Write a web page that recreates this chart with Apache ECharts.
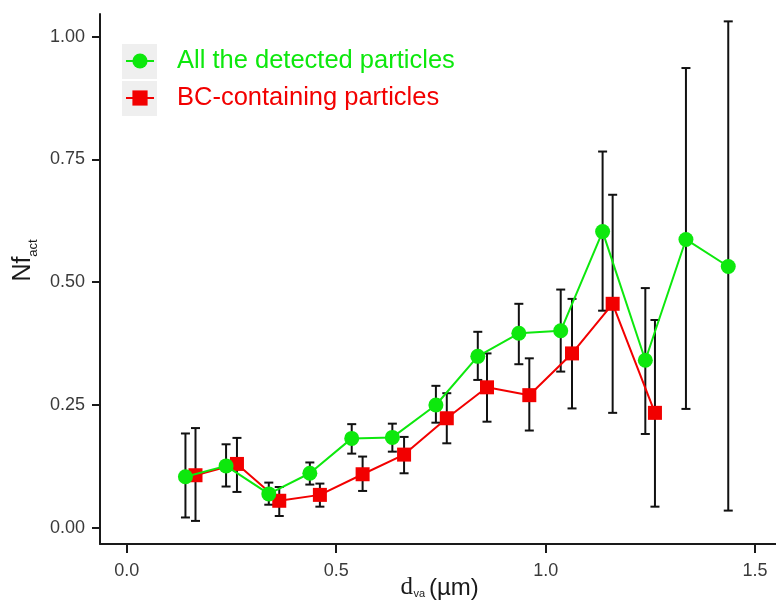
<!DOCTYPE html>
<html>
<head>
<meta charset="utf-8">
<script src="https://cdn.jsdelivr.net/npm/echarts@6/dist/echarts.min.js"></script>
<style>
  html, body { margin: 0; padding: 0; background: #ffffff; }
  #chart { width: 776px; height: 606px; }
</style>
</head>
<body>
<div id="chart"></div>
<script>
// Activated number fraction vs. vacuum aerodynamic diameter
const xTicks = [0, 0.5, 1.0, 1.5];
const yTicks = [0, 0.25, 0.5, 0.75, 1.0];

const seriesNames = ['All the detected particles', 'BC-containing particles'];

// All the detected particles
const allX    = [0.140, 0.237, 0.339, 0.437, 0.537, 0.634, 0.738, 0.838, 0.936, 1.036, 1.136, 1.238, 1.335, 1.436];
const allY    = [0.104, 0.126, 0.069, 0.111, 0.182, 0.184, 0.250, 0.349, 0.396, 0.401, 0.603, 0.341, 0.587, 0.532];
const allLow  = [0.021, 0.084, 0.047, 0.088, 0.151, 0.155, 0.214, 0.301, 0.333, 0.318, 0.442, 0.191, 0.242, 0.035];
const allHigh = [0.192, 0.170, 0.092, 0.133, 0.211, 0.212, 0.289, 0.399, 0.456, 0.485, 0.766, 0.488, 0.936, 1.031];

// BC-containing particles
const bcX    = [0.164, 0.263, 0.364, 0.461, 0.563, 0.662, 0.764, 0.860, 0.961, 1.063, 1.160, 1.261];
const bcY    = [0.107, 0.130, 0.055, 0.067, 0.109, 0.149, 0.223, 0.286, 0.270, 0.355, 0.456, 0.234];
const bcLow  = [0.014, 0.073, 0.024, 0.043, 0.075, 0.111, 0.172, 0.216, 0.198, 0.243, 0.234, 0.043];
const bcHigh = [0.203, 0.183, 0.083, 0.090, 0.145, 0.185, 0.274, 0.355, 0.345, 0.466, 0.678, 0.423];

const GREEN = '#0de80d';
const RED = '#f20000';
const INK = '#1a1a1a';
const FONT = 'Liberation Sans, Arial, sans-serif';
const SERIF = 'Liberation Serif, Times New Roman, serif';

function errorBarSeries(xs, lows, highs) {
  return {
    type: 'custom',
    silent: true,
    z: 1,
    encode: { x: 0, y: [1, 2] },
    data: xs.map((x, i) => [x, lows[i], highs[i]]),
    renderItem(params, api) {
      const top = api.coord([api.value(0), api.value(2)]);
      const bot = api.coord([api.value(0), api.value(1)]);
      const half = 4.5;
      const style = { stroke: '#111111', lineWidth: 2 };
      return {
        type: 'group',
        children: [
          { type: 'line', shape: { x1: top[0], y1: top[1], x2: bot[0], y2: bot[1] }, style },
          { type: 'line', shape: { x1: top[0] - half, y1: top[1], x2: top[0] + half, y2: top[1] }, style },
          { type: 'line', shape: { x1: bot[0] - half, y1: bot[1], x2: bot[0] + half, y2: bot[1] }, style }
        ]
      };
    }
  };
}

// axis titles with subscripts, each piece in its own font
function label(text, x, y, size, family, rotation, align) {
  return {
    type: 'text', x, y, silent: true, z: 10,
    rotation: rotation || 0,
    style: {
      text, fontSize: size, fontFamily: family, fontWeight: 'normal', fontStyle: 'normal',
      fill: INK, align: align || 'left', verticalAlign: 'middle'
    }
  };
}

const chart = echarts.init(document.getElementById('chart'), null, { renderer: 'canvas' });

chart.setOption({
  animation: false,
  backgroundColor: '#ffffff',
  textStyle: { fontFamily: FONT },
  grid: { left: 100, right: 0, top: 14, bottom: 62, containLabel: false, outerBoundsMode: 'none' },
  graphic: [
    { type: 'rect', z: 0, shape: { x: 122, y: 44, width: 35, height: 35 }, style: { fill: '#efefef' } },
    { type: 'rect', z: 0, shape: { x: 122, y: 81, width: 35, height: 35 }, style: { fill: '#efefef' } },
    // x title: d_va (µm)
    label('d', 400.5, 587, 25, SERIF),
    label('va', 413.5, 594, 11, FONT),
    label('(µm)', 429, 588.5, 24, FONT),
    // y title: Nf_act, read bottom to top
    label('Nf', 23, 269, 25, FONT, Math.PI / 2, 'center'),
    label('act', 33, 248, 13, FONT, Math.PI / 2, 'center')
  ],
  legend: {
    orient: 'vertical',
    left: 120,
    top: 42,
    itemWidth: 28,
    itemHeight: 19,
    itemGap: 9,
    z: 5,
    textStyle: { fontSize: 25.5, fontFamily: FONT, lineHeight: 28, padding: [0, 0, 0, 18] },
    data: [
      { name: seriesNames[0], textStyle: { color: GREEN } },
      { name: seriesNames[1], textStyle: { color: RED } }
    ]
  },
  xAxis: {
    type: 'value',
    min: -0.064,
    max: 1.55,
    splitLine: { show: false },
    axisLine: { onZero: false, lineStyle: { color: INK, width: 2 } },
    axisTick: { show: true, length: 9, customValues: xTicks, lineStyle: { color: INK, width: 2 } },
    axisLabel: {
      customValues: xTicks,
      margin: 18,
      fontSize: 18,
      color: '#3a3a3a',
      fontFamily: FONT,
      formatter: v => v.toFixed(1)
    }
  },
  yAxis: {
    type: 'value',
    min: -0.033,
    max: 1.046,
    splitLine: { show: false },
    axisLine: { show: true, onZero: false, lineStyle: { color: INK, width: 2 } },
    axisTick: { show: true, length: 8, customValues: yTicks, lineStyle: { color: INK, width: 2 } },
    axisLabel: {
      customValues: yTicks,
      margin: 15,
      fontSize: 18,
      color: '#3a3a3a',
      fontFamily: FONT,
      formatter: v => v.toFixed(2)
    }
  },
  series: [
    errorBarSeries(allX, allLow, allHigh),
    errorBarSeries(bcX, bcLow, bcHigh),
    {
      name: seriesNames[1],
      type: 'line',
      z: 2,
      data: bcX.map((x, i) => [x, bcY[i]]),
      symbol: 'rect',
      symbolSize: 14,
      showAllSymbol: true,
      itemStyle: { color: RED },
      lineStyle: { color: RED, width: 2 }
    },
    {
      name: seriesNames[0],
      type: 'line',
      z: 3,
      data: allX.map((x, i) => [x, allY[i]]),
      symbol: 'circle',
      symbolSize: 15,
      showAllSymbol: true,
      itemStyle: { color: GREEN },
      lineStyle: { color: GREEN, width: 2 }
    }
  ]
});
</script>
</body>
</html>
